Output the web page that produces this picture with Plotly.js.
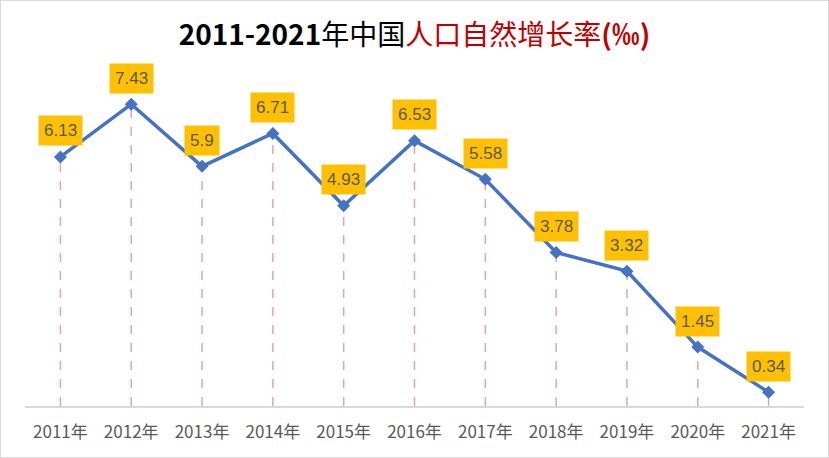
<!DOCTYPE html>
<html>
<head>
<meta charset="utf-8">
<script src="https://cdn.plot.ly/plotly-3.0.1.min.js"></script>
<style>
  html, body { margin: 0; padding: 0; background: #fff; }
  #chart { width: 829px; height: 458px; box-sizing: border-box; border: 1px solid #d9d9d9; }
</style>
</head>
<body>
<div id="chart"></div>
<script>
// 2011-2021年中国人口自然增长率
var years = ['2011年', '2012年', '2013年', '2014年', '2015年', '2016年',
             '2017年', '2018年', '2019年', '2020年', '2021年'];
var rates = [6.13, 7.43, 5.9, 6.71, 4.93, 6.53, 5.58, 3.78, 3.32, 1.45, 0.34];
var rateLabels = ['6.13', '7.43', '5.9', '6.71', '4.93', '6.53', '5.58', '3.78', '3.32', '1.45', '0.34'];

var lineTrace = {
    x: years,
    y: rates,
    type: 'scatter',
    mode: 'lines+markers',
    line: {color: '#4472C4', width: 3.5},
    marker: {symbol: 'diamond', size: 10, color: '#4472C4'},
    hoverinfo: 'x+y'
};

// 垂直虚线
var dropLines = years.map(function (yr, i) {
    return {
        type: 'line', xref: 'x', yref: 'y',
        x0: yr, x1: yr, y0: 0, y1: rates[i],
        line: {color: '#E3A5AD', width: 1.5, dash: 'dash'},
        layer: 'below'
    };
});

// 数据标签
var labels = years.map(function (yr, i) {
    return {
        x: yr, y: rates[i], text: rateLabels[i],
        showarrow: false, yshift: 26,
        bgcolor: '#FFC000', borderpad: 5,
        font: {family: 'Liberation Sans, Arial', size: 17, color: '#595959'}
    };
});

var layout = {
    width: 827,
    height: 456,
    margin: {l: 24, r: 24, t: 80, b: 51},
    paper_bgcolor: '#fff',
    plot_bgcolor: '#fff',
    showlegend: false,
    title: {
        text: '<b>2011-2021</b>年中国<span style="color:#C00000">人口自然增长率<b>(‰)</b></span>',
        x: 0.5, xanchor: 'center', y: 0.925, yanchor: 'middle',
        font: {family: 'Noto Sans CJK SC', size: 28, color: '#000', weight: 'normal'}
    },
    xaxis: {
        type: 'category',
        range: [-0.5, years.length - 0.5],
        showgrid: false,
        showline: true, linecolor: '#D9D9D9', linewidth: 1.5,
        ticks: '',
        ticklabelstandoff: 10,
        tickfont: {family: 'Noto Sans CJK SC', size: 17, color: '#595959'},
        fixedrange: true
    },
    yaxis: {
        range: [0, 8],
        visible: false,
        fixedrange: true
    },
    shapes: dropLines,
    annotations: labels
};

Plotly.newPlot('chart', [lineTrace], layout, {displayModeBar: false});
</script>
</body>
</html>
